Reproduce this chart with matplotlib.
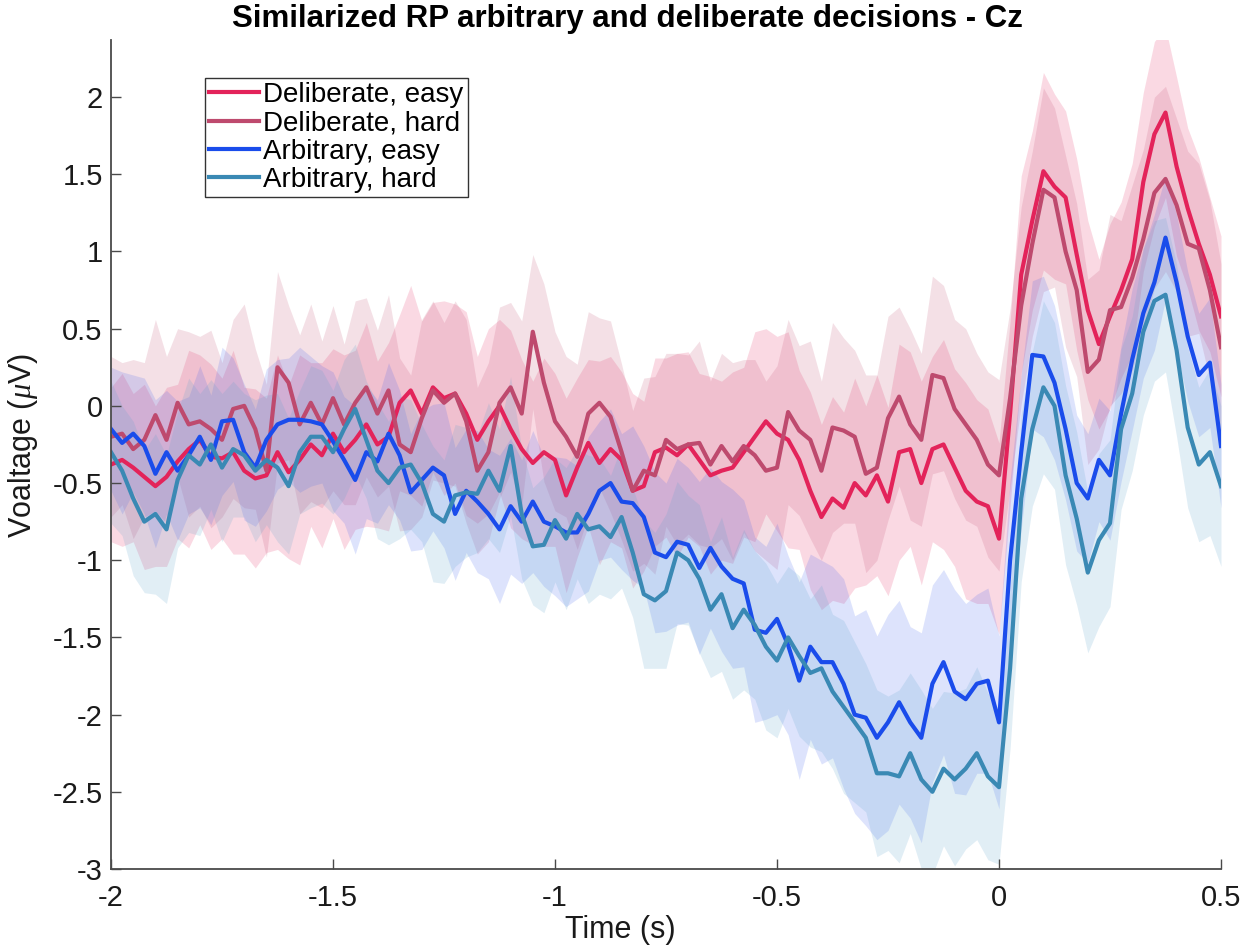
import numpy as np
import matplotlib
matplotlib.use("Agg")
import matplotlib.pyplot as plt

plt.rcParams['font.family'] = ['Liberation Sans', 'DejaVu Sans']
plt.rcParams['mathtext.fontset'] = 'custom'
plt.rcParams['mathtext.it'] = 'Liberation Serif:italic'

# time axis (s)
time = np.round(np.arange(-2.0, 0.5001, 0.025), 3)

delib_easy = [
    -0.38, -0.35, -0.40, -0.46, -0.52, -0.46, -0.36, -0.28, -0.22, -0.33,
    -0.34, -0.30, -0.42, -0.47, -0.45, -0.30, -0.43, -0.35, -0.25, -0.32,
    -0.18, -0.30, -0.22, -0.12, -0.25, -0.20, 0.02, 0.10, -0.05, 0.12,
    0.05, 0.08, -0.05, -0.22, -0.10, 0.00, -0.15, -0.28, -0.37, -0.30,
    -0.35, -0.58, -0.40, -0.24, -0.37, -0.28, -0.35, -0.55, -0.52, -0.30,
    -0.27, -0.32, -0.25, -0.35, -0.45, -0.42, -0.40, -0.30, -0.20, -0.10,
    -0.18, -0.22, -0.35, -0.55, -0.72, -0.60, -0.66, -0.50, -0.58, -0.45,
    -0.62, -0.30, -0.28, -0.50, -0.28, -0.25, -0.40, -0.55, -0.62, -0.65,
    -0.86, -0.05, 0.85, 1.20, 1.52, 1.42, 1.35, 0.98, 0.62, 0.40,
    0.58, 0.75, 0.95, 1.45, 1.76, 1.90, 1.55, 1.28, 1.05, 0.85,
    0.58]

delib_hard = [
    -0.20, -0.18, -0.28, -0.22, -0.06, -0.22, 0.02, -0.12, -0.10, -0.15,
    -0.22, -0.02, 0.00, -0.15, -0.42, 0.25, 0.15, -0.12, 0.02, -0.12,
    0.05, -0.12, 0.02, 0.12, -0.05, 0.10, -0.25, -0.30, -0.08, 0.10,
    0.02, 0.08, -0.10, -0.42, -0.30, 0.02, 0.12, -0.05, 0.48, 0.15,
    -0.10, -0.20, -0.33, -0.05, 0.02, -0.07, -0.30, -0.55, -0.42, -0.45,
    -0.22, -0.28, -0.25, -0.24, -0.38, -0.26, -0.36, -0.26, -0.32, -0.42,
    -0.40, -0.04, -0.16, -0.22, -0.42, -0.14, -0.16, -0.20, -0.44, -0.40,
    -0.08, 0.06, -0.12, -0.22, 0.20, 0.18, -0.02, -0.12, -0.22, -0.38,
    -0.45, 0.05, 0.65, 1.05, 1.40, 1.35, 1.00, 0.75, 0.22, 0.30,
    0.62, 0.64, 0.83, 1.08, 1.38, 1.47, 1.30, 1.05, 1.02, 0.75,
    0.38]

arb_easy = [
    -0.15, -0.24, -0.18, -0.26, -0.44, -0.30, -0.42, -0.32, -0.20, -0.35,
    -0.10, -0.09, -0.30, -0.40, -0.22, -0.12, -0.09, -0.09, -0.10, -0.12,
    -0.23, -0.35, -0.48, -0.30, -0.36, -0.18, -0.32, -0.56, -0.48, -0.40,
    -0.45, -0.70, -0.55, -0.62, -0.70, -0.80, -0.65, -0.75, -0.62, -0.75,
    -0.78, -0.82, -0.82, -0.70, -0.55, -0.50, -0.62, -0.63, -0.72, -0.95,
    -0.98, -0.88, -0.90, -1.05, -0.92, -1.04, -1.12, -1.15, -1.45, -1.47,
    -1.38, -1.55, -1.78, -1.56, -1.66, -1.66, -1.80, -2.00, -2.02, -2.15,
    -2.05, -1.92, -2.05, -2.15, -1.80, -1.66, -1.85, -1.90, -1.80, -1.78,
    -2.05, -1.00, -0.30, 0.33, 0.32, 0.15, -0.15, -0.50, -0.60, -0.35,
    -0.45, -0.05, 0.30, 0.60, 0.80, 1.09, 0.80, 0.45, 0.20, 0.28,
    -0.26]

arb_hard = [
    -0.30, -0.42, -0.60, -0.75, -0.70, -0.80, -0.48, -0.32, -0.38, -0.25,
    -0.40, -0.28, -0.32, -0.42, -0.35, -0.40, -0.52, -0.30, -0.20, -0.20,
    -0.30, -0.15, -0.02, -0.22, -0.42, -0.50, -0.40, -0.38, -0.50, -0.70,
    -0.75, -0.58, -0.56, -0.57, -0.42, -0.55, -0.26, -0.70, -0.91, -0.90,
    -0.74, -0.86, -0.70, -0.80, -0.78, -0.85, -0.72, -0.95, -1.22, -1.26,
    -1.20, -0.95, -1.00, -1.12, -1.32, -1.22, -1.44, -1.32, -1.42, -1.56,
    -1.65, -1.50, -1.62, -1.73, -1.70, -1.85, -1.95, -2.05, -2.15, -2.38,
    -2.38, -2.40, -2.25, -2.42, -2.50, -2.35, -2.42, -2.35, -2.25, -2.40,
    -2.47, -1.70, -0.60, -0.15, 0.12, 0.00, -0.45, -0.73, -1.08, -0.87,
    -0.76, -0.15, 0.08, 0.48, 0.68, 0.72, 0.36, -0.14, -0.38, -0.30,
    -0.52]

# shaded error (half width of the band)
delib_easy_err = [
    0.50, 0.56, 0.48, 0.60, 0.52, 0.58, 0.50, 0.64, 0.55, 0.60,
    0.52, 0.66, 0.54, 0.58, 0.50, 0.63, 0.56, 0.68, 0.53, 0.60,
    0.55, 0.63, 0.58, 0.66, 0.54, 0.61, 0.57, 0.68, 0.60, 0.55,
    0.63, 0.58, 0.66, 0.54, 0.60, 0.56, 0.64, 0.58, 0.53, 0.61,
    0.56, 0.63, 0.58, 0.54, 0.66, 0.60, 0.57, 0.63, 0.55, 0.61,
    0.58, 0.66, 0.60, 0.56, 0.64, 0.58, 0.62, 0.55, 0.68, 0.60,
    0.63, 0.70, 0.58, 0.64, 0.60, 0.66, 0.62, 0.68, 0.58, 0.65,
    0.61, 0.70, 0.63, 0.66, 0.60, 0.68, 0.64, 0.70, 0.66, 0.63,
    0.62, 0.60, 0.64, 0.58, 0.64, 0.60, 0.56, 0.62, 0.58, 0.55,
    0.60, 0.57, 0.62, 0.58, 0.60, 0.55, 0.58, 0.52, 0.56, 0.50,
    0.52]

delib_hard_err = [
    0.52, 0.46, 0.58, 0.50, 0.62, 0.54, 0.48, 0.60, 0.55, 0.64,
    0.50, 0.58, 0.66, 0.52, 0.56, 0.62, 0.50, 0.58, 0.64, 0.54,
    0.60, 0.52, 0.66, 0.58, 0.54, 0.62, 0.56, 0.50, 0.64, 0.58,
    0.52, 0.60, 0.66, 0.54, 0.58, 0.62, 0.55, 0.60, 0.50, 0.64,
    0.58, 0.52, 0.60, 0.66, 0.55, 0.62, 0.57, 0.52, 0.60, 0.64,
    0.56, 0.62, 0.58, 0.66, 0.54, 0.60, 0.64, 0.56, 0.62, 0.58,
    0.66, 0.60, 0.55, 0.64, 0.58, 0.68, 0.60, 0.56, 0.64, 0.60,
    0.66, 0.58, 0.62, 0.56, 0.64, 0.60, 0.58, 0.62, 0.56, 0.60,
    0.62, 0.58, 0.64, 0.60, 0.66, 0.58, 0.62, 0.56, 0.60, 0.58,
    0.62, 0.56, 0.60, 0.58, 0.62, 0.60, 0.56, 0.60, 0.55, 0.58,
    0.54]

arb_easy_err = [
    0.40, 0.46, 0.38, 0.44, 0.48, 0.40, 0.45, 0.38, 0.46, 0.42,
    0.48, 0.40, 0.44, 0.38, 0.46, 0.42, 0.40, 0.47, 0.42, 0.38,
    0.45, 0.41, 0.48, 0.43, 0.40, 0.46, 0.42, 0.38, 0.45, 0.41,
    0.47, 0.43, 0.40, 0.46, 0.42, 0.48, 0.44, 0.40, 0.46, 0.42,
    0.45, 0.48, 0.43, 0.50, 0.45, 0.48, 0.44, 0.50, 0.46, 0.52,
    0.48, 0.54, 0.50, 0.56, 0.52, 0.55, 0.58, 0.54, 0.60, 0.56,
    0.62, 0.58, 0.64, 0.60, 0.66, 0.62, 0.68, 0.64, 0.70, 0.66,
    0.70, 0.66, 0.62, 0.68, 0.64, 0.60, 0.66, 0.62, 0.58, 0.60,
    0.56, 0.52, 0.50, 0.48, 0.52, 0.50, 0.46, 0.44, 0.42, 0.40,
    0.42, 0.44, 0.46, 0.42, 0.44, 0.40, 0.44, 0.42, 0.40, 0.42,
    0.40]

arb_hard_err = [
    0.46, 0.42, 0.50, 0.46, 0.52, 0.48, 0.44, 0.50, 0.46, 0.42,
    0.48, 0.44, 0.40, 0.46, 0.42, 0.48, 0.44, 0.40, 0.46, 0.43,
    0.40, 0.45, 0.42, 0.38, 0.44, 0.40, 0.46, 0.42, 0.38, 0.44,
    0.40, 0.46, 0.42, 0.38, 0.44, 0.40, 0.45, 0.42, 0.38, 0.44,
    0.40, 0.46, 0.42, 0.48, 0.44, 0.40, 0.46, 0.42, 0.48, 0.44,
    0.50, 0.46, 0.42, 0.48, 0.44, 0.50, 0.46, 0.52, 0.48, 0.54,
    0.50, 0.46, 0.52, 0.48, 0.54, 0.50, 0.56, 0.52, 0.48, 0.54,
    0.50, 0.56, 0.52, 0.58, 0.54, 0.50, 0.56, 0.52, 0.56, 0.54,
    0.50, 0.52, 0.54, 0.50, 0.56, 0.54, 0.58, 0.56, 0.52, 0.56,
    0.54, 0.52, 0.50, 0.54, 0.52, 0.50, 0.56, 0.52, 0.50, 0.54,
    0.52]

labels = ["Deliberate, easy", "Deliberate, hard", "Arbitrary, easy", "Arbitrary, hard"]
line_colors = ["#E3235A", "#BE4A6E", "#1A4CEB", "#3A89B4"]
band_colors = ["#E3235A", "#C04A6E", "#3A5CF0", "#5AA2CC"]
band_alpha = [0.17, 0.17, 0.17, 0.18]

series = [delib_easy, delib_hard, arb_easy, arb_hard]
errors = [delib_easy_err, delib_hard_err, arb_easy_err, arb_hard_err]

fig = plt.figure(figsize=(12.55, 9.47), dpi=100)
ax = fig.add_axes([111 / 1255, 1 - 869 / 947, 1110 / 1255, 829 / 947])

t = np.array(time)
for y, e, c, a in zip(series, errors, band_colors, band_alpha):
    y = np.array(y)
    e = np.array(e)
    ax.fill_between(t, y - e, y + e, color=c, alpha=a, linewidth=0)

handles = []
for y, c, lab in zip(series, line_colors, labels):
    h, = ax.plot(t, y, color=c, lw=3.0, label=lab, solid_joinstyle='round')
    handles.append(h)

ax.set_xlim(-2, 0.5)
ax.set_ylim(-3, 2.37)
xt = [-2, -1.5, -1, -0.5, 0, 0.5]
yt = [-3, -2.5, -2, -1.5, -1, -0.5, 0, 0.5, 1, 1.5, 2]
ax.set_xticks(xt)
ax.set_xticklabels(['%g' % v for v in xt])
ax.set_yticks(yt)
ax.set_yticklabels(['%g' % v for v in yt])

for s in ['top', 'right']:
    ax.spines[s].set_visible(False)
for s in ['left', 'bottom']:
    ax.spines[s].set_color('#4a4a4a')
    ax.spines[s].set_linewidth(1.3)
ax.tick_params(direction='in', length=7, width=1.0, colors='#4a4a4a',
               labelcolor='#1a1a1a', labelsize=21)
ax.tick_params(axis='x', pad=11)
ax.tick_params(axis='y', pad=6)

ax.set_xlabel('Time (s)', fontsize=22, labelpad=0, color='#1a1a1a')
ax.xaxis.set_label_coords((620 - 111) / 1110, -0.055)
ax.set_ylabel(r'Voaltage ($\mu$V)', fontsize=22, color='#1a1a1a')
ax.yaxis.set_label_coords(-0.064, (869 - 445) / 829)

fig.text(0.5, 1 - 19 / 947, 'Similarized RP arbitrary and deliberate decisions - Cz',
         fontsize=22.5, fontweight='bold', ha='center', va='center')

leg = ax.legend(handles=handles, loc='upper left',
                bbox_to_anchor=(94 / 1110, (869 - 78) / 829),
                fontsize=20, frameon=True, fancybox=False,
                edgecolor='#333333', framealpha=1, borderpad=0.15,
                labelspacing=0.08, handlelength=1.8, handletextpad=0.15,
                borderaxespad=0)
leg.get_frame().set_linewidth(1.0)

fig.savefig('out.png', dpi=100)
